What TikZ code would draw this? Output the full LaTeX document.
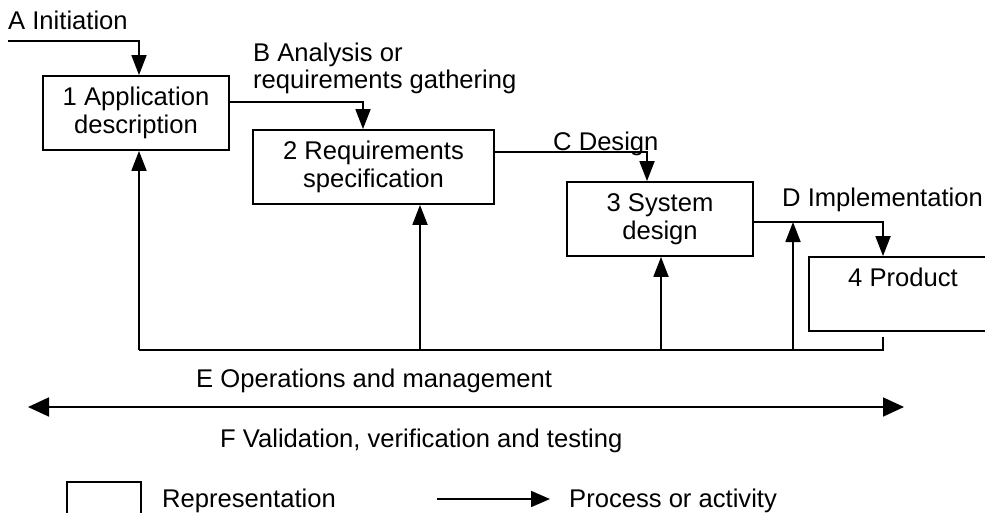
\documentclass[tikz,border=0pt]{standalone}
\usepackage{fontspec}
\setmainfont{Liberation Sans}
\usetikzlibrary{arrows.meta}
\begin{document}
\begin{tikzpicture}[x=1pt,y=-1pt,
  every node/.style={font=\fontsize{25.6}{28.5}\selectfont},
  stagebox/.style={draw, line width=1.8pt, inner sep=0pt, align=center, minimum height=74pt},
  wire/.style={line width=1.8pt},
  flow/.style={wire, -{Triangle[width=15pt,length=20pt]}},
  lbl/.style={anchor=base west, inner sep=0pt},
]
\useasboundingbox (0,0) rectangle (985,513);
\clip (0,0) rectangle (985,513);

% stage boxes
\node[stagebox, minimum width=186pt] (b1) at (136,113) {1 Application\\description};
\node[stagebox, minimum width=241pt] (b2) at (373.5,167) {2 Requirements\\specification};
\node[stagebox, minimum width=186pt] (b3) at (660,219) {3 System\\design};
\node[stagebox, minimum width=188pt] (b4) at (903,294) {};
\node[anchor=base, inner sep=0pt] (p4) at (903,286.7) {4 Product};

% activity labels
\node[lbl] (la) at (8,30) {A Initiation};
\node[lbl] (lb1) at (253,61.5) {B Analysis or};
\node[lbl] (lb2) at (253,89) {requirements gathering};
\node[lbl] (lc) at (553,150.5) {C Design};
\node[lbl] (ld) at (782,207) {D Implementation};
\node[lbl] (le) at (196,387) {E Operations and management};
\node[lbl] (lf) at (220,447) {F Validation, verification and testing};

% forward activities
\coordinate (ja) at (8,40.7);
\draw[flow] (ja) -| ([xshift=3pt]b1.north);
\coordinate (jb) at (363,102);
\draw[flow] (b1.east |- jb) -| (b2.north -| jb);
\coordinate (jc) at (647,152);
\draw[flow] (b2.east |- jc) -| (b3.north -| jc);
\coordinate (jd) at (883,222);
\draw[flow] (b3.east |- jd) -| (b4.north -| jd);

% feedback from operations
\coordinate (fe) at (883,337);
\coordinate (u1) at (139,350);
\coordinate (u2) at (420,350);
\coordinate (u3) at (661,350);
\coordinate (u4) at (793,350);
\draw[wire] (fe) |- (u1);
\draw[flow] (u1) -- (b1.south -| u1);
\draw[flow] (u2) -- (b2.south -| u2);
\draw[flow] (u3) -- (b3.south -| u3);
\draw[flow] (u4) -- (jd -| u4);

% validation span
\coordinate (vl) at (28,407);
\coordinate (vr) at (904,407);
\draw[wire, {Triangle[width=19pt,length=21pt]}-{Triangle[width=19pt,length=21pt]}] (vl) -- (vr);

% legend
\node[draw, line width=1.8pt, minimum width=74pt, minimum height=60pt, anchor=north west, inner sep=0pt] (legbox) at (66,481) {};
\node[lbl] (legrep) at (162,507) {Representation};
\coordinate (lga) at (437,499);
\coordinate (lgb) at (550,499);
\draw[wire, -{Triangle[width=16pt,length=19pt]}] (lga) -- (lgb);
\node[lbl] (legproc) at (569,507) {Process or activity};
\end{tikzpicture}
\end{document}
